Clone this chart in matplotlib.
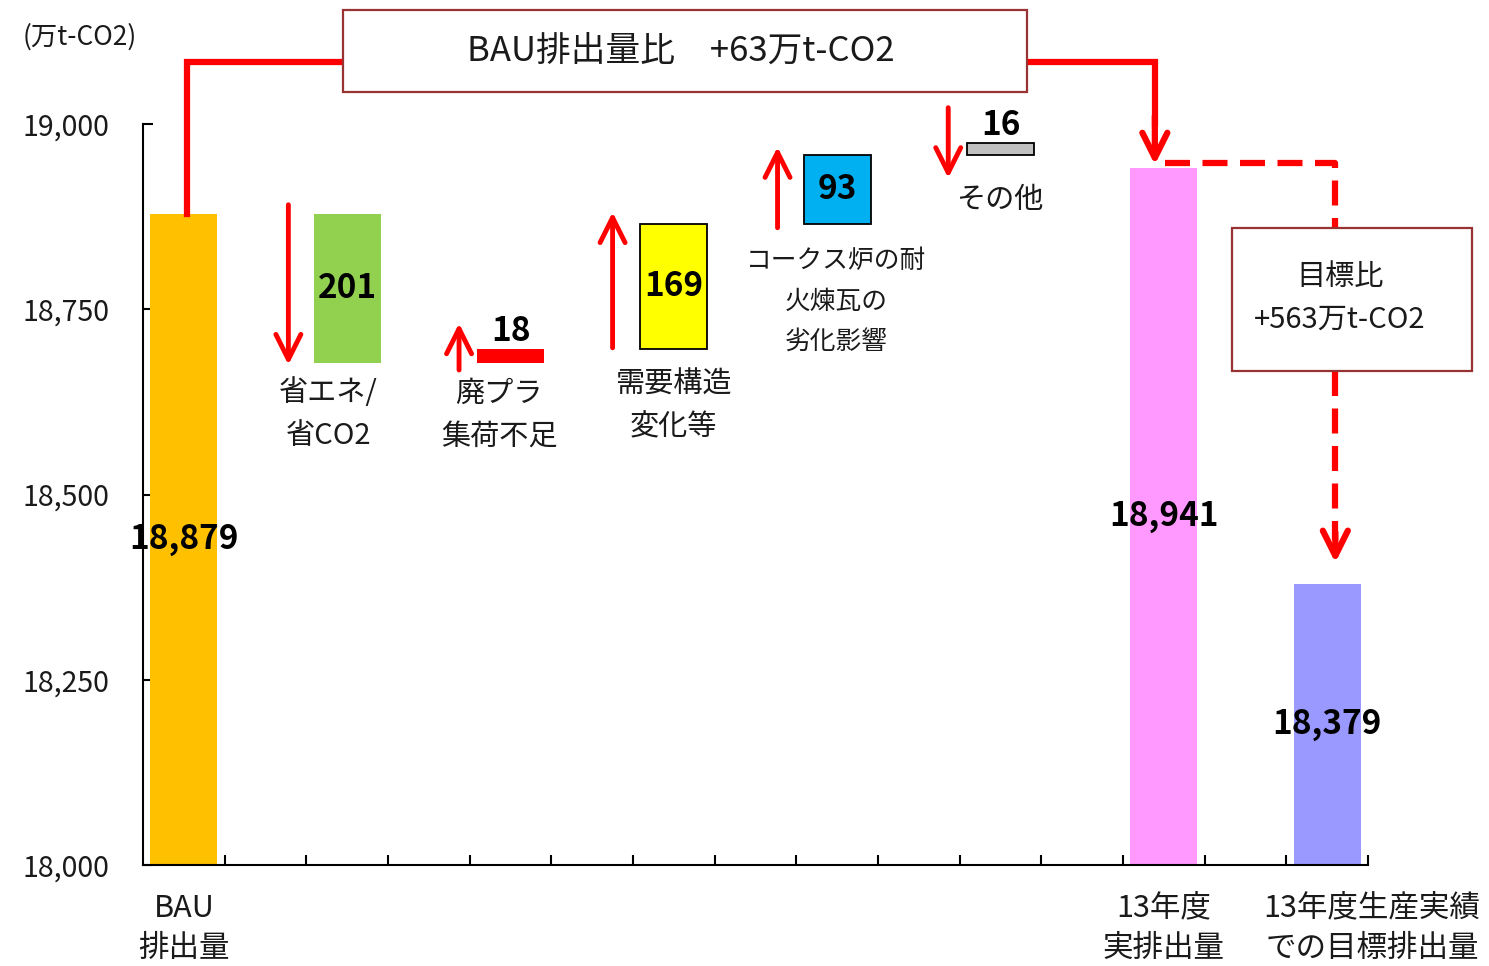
import numpy as np
import matplotlib
matplotlib.use("Agg")
import matplotlib.pyplot as plt
from matplotlib.patches import Rectangle
from matplotlib.ticker import FuncFormatter

plt.rcParams['font.family'] = ['Noto Sans CJK JP', 'DejaVu Sans']

# ---- data -------------------------------------------------------------
unit_label = "(万t-CO2)"

bau_label = "BAU\n排出量"
bau_value = 18879

step_names = ["省エネ/\n省CO2", "廃プラ\n集荷不足", "需要構造\n変化等",
              "コークス炉の耐\n火煉瓦の\n劣化影響", "その他"]
step_values = [-201, 18, 169, 93, -16]
step_bottoms = [18678, 18678, 18696, 18865, 18958]
step_colors = ["#92D050", "#FF0000", "#FFFF00", "#00B0F0", "#C0C0C0"]
step_edged = [False, False, True, True, True]

actual_label = "13年度\n実排出量"
actual_value = 18941

target_label = "13年度生産実績\nでの目標排出量"
target_value = 18379

bau_gap_text = "BAU排出量比　+63万t-CO2"
target_gap_text = "目標比\n+563万t-CO2"

y_ticks = [18000, 18250, 18500, 18750, 19000]

# ---- layout -------------------------------------------------------------
W, H = 1489, 966
fig = plt.figure(figsize=(W / 100, H / 100), dpi=100)
ax = fig.add_axes([143 / W, 1 - 865 / H, (1368 - 143) / W, (865 - 124) / H])

n_slots = 15
ax.set_xlim(-0.5, n_slots - 0.5)
ax.set_ylim(y_ticks[0], y_ticks[-1])

bar_w = 0.82
RED = "#FF0000"
BOX_EDGE = "#993333"
TXT = "#1a1a1a"
y0 = y_ticks[0]

bau_x, actual_x, target_x = 0, 12, 14
step_x = [2, 4, 6, 8, 10]

# totals
for x, v, c in [(bau_x, bau_value, "#FFC000"),
                (actual_x, actual_value, "#FF99FF"),
                (target_x, target_value, "#9999FF")]:
    ax.bar(x, v - y0, bottom=y0, width=bar_w, color=c, zorder=2)
    ax.text(x, (y0 + v) / 2, f"{v:,}", ha="center", va="center",
            fontsize=24, fontweight="bold", zorder=4)

# steps
for x, v, b, c, e in zip(step_x, step_values, step_bottoms, step_colors, step_edged):
    ax.bar(x, abs(v), bottom=b, width=bar_w, color=c,
           edgecolor="black" if e else c, linewidth=1.3 if e else 0, zorder=2)
    if abs(v) >= 50:
        ax.text(x, b + abs(v) / 2, f"{abs(v)}", ha="center", va="center",
                fontsize=24, fontweight="bold", zorder=4)
    else:
        ax.annotate(f"{abs(v)}", (x, b + abs(v)), xytext=(0, 6),
                    textcoords="offset points", ha="center", va="baseline",
                    fontsize=24, fontweight="bold", annotation_clip=False)

# direction arrows beside each step (x, tail, tip)
arrow_specs = [(2 - 0.72, 18891, 18675),
               (4 - 0.63, 18668, 18731),
               (6 - 0.75, 18698, 18881),
               (8 - 0.73, 18860, 18969),
               (10 - 0.64, 19022, 18927)]
head = "->,head_length=0.9,head_width=0.45"
for ax_x, tail, tip in arrow_specs:
    ax.annotate("", xy=(ax_x, tip), xytext=(ax_x, tail),
                arrowprops=dict(arrowstyle=head, color=RED, lw=3.5,
                                shrinkA=0, shrinkB=0, mutation_scale=20),
                annotation_clip=False, zorder=5)

# step captions
label_x = [2 - 0.23, 4 - 0.14, 6 - 0.01, 8 - 0.01, 10 - 0.01]
label_anchor = [18678, 18678, 18696, 18865, 18958]
label_gap = [11, 11.5, 15, 17, 21.5]
label_size = [21, 21, 21, 18.5, 21]
label_ls = [1.55, 1.55, 1.55, 1.75, 1.55]
for lx, ly, g, s, ls, t in zip(label_x, label_anchor, label_gap, label_size,
                               label_ls, step_names):
    ax.annotate(t, (lx, ly), xytext=(0, -g), textcoords="offset points",
                ha="center", va="top", fontsize=s, linespacing=ls,
                color=TXT, annotation_clip=False)

# category captions under the axis
for cx, t in [(bau_x, bau_label), (actual_x, actual_label), (14.55, target_label)]:
    ax.annotate(t, (cx, y0), xytext=(0, -20), textcoords="offset points",
                ha="center", va="top", fontsize=22, linespacing=1.4,
                color=TXT, annotation_clip=False)

# BAU -> actual connector with the gap box
y_link = 19084
box1 = (1.949, 19043, 10.32 - 1.949, 19154 - 19043)
ax.plot([0.04, 0.04, box1[0]], [bau_value, y_link, y_link], color=RED,
        lw=4.5, solid_joinstyle="miter", clip_on=False, zorder=3)
ax.plot([box1[0] + box1[2], 11.89, 11.89], [y_link, y_link, actual_value + 60],
        color=RED, lw=4.5, solid_joinstyle="miter", clip_on=False, zorder=3)
ax.annotate("", xy=(11.89, actual_value + 4), xytext=(11.89, actual_value + 70),
            arrowprops=dict(arrowstyle=head, color=RED, lw=4.5,
                            shrinkA=0, shrinkB=0, mutation_scale=20),
            annotation_clip=False, zorder=5)
ax.add_patch(Rectangle(box1[:2], box1[2], box1[3], facecolor="white",
                       edgecolor=BOX_EDGE, lw=1.6, clip_on=False, zorder=4))
ax.text(box1[0] + box1[2] / 2 - 0.05, 19098, bau_gap_text, ha="center",
        va="center", fontsize=25, color=TXT, zorder=5)

# actual -> target connector (dashed) with the gap box
box2 = (12.834, 18667, 15.77 - 12.834, 18860 - 18667)
y_dash = 18947
ax.plot([12.01, 14.10, 14.10], [y_dash, y_dash, box2[1] + box2[3]], color=RED,
        lw=4.5, ls=(0, (4, 2)), solid_joinstyle="miter", clip_on=False, zorder=3)
ax.plot([14.10, 14.10], [box2[1], target_value + 60], color=RED,
        lw=4.5, ls=(0, (4, 2)), clip_on=False, zorder=3)
ax.annotate("", xy=(14.10, target_value + 29), xytext=(14.10, target_value + 70),
            arrowprops=dict(arrowstyle=head, color=RED, lw=4.5,
                            shrinkA=0, shrinkB=0, mutation_scale=20),
            annotation_clip=False, zorder=5)
ax.add_patch(Rectangle(box2[:2], box2[2], box2[3], facecolor="white",
                       edgecolor=BOX_EDGE, lw=1.6, clip_on=False, zorder=4))
tx = box2[0] + box2[2] / 2 - 0.15
gap_lines = target_gap_text.split("\n")
ax.text(tx, 18794, gap_lines[0], ha="center", va="center",
        fontsize=21, color=TXT, zorder=5)
ax.text(tx, 18736, gap_lines[1], ha="center", va="center",
        fontsize=21, color=TXT, zorder=5)

# axes styling
for s in ("top", "right"):
    ax.spines[s].set_visible(False)
for s in ("left", "bottom"):
    ax.spines[s].set_linewidth(1.5)
ax.set_yticks(y_ticks)
ax.yaxis.set_major_formatter(FuncFormatter(lambda v, _: f"{int(v):,}"))
ax.tick_params(axis="y", direction="in", length=7, width=1.5, pad=24,
               labelsize=20.5, labelcolor=TXT)
ax.set_xticks([])
ax.set_xticks(np.arange(0.5, n_slots, 1), minor=True)
ax.tick_params(axis="x", which="minor", direction="in", length=7, width=1.5)

fig.text(80 / W, 1 - 37 / H, unit_label, ha="center", va="center",
         fontsize=19, color=TXT)

fig.savefig("out.png", dpi=100)
